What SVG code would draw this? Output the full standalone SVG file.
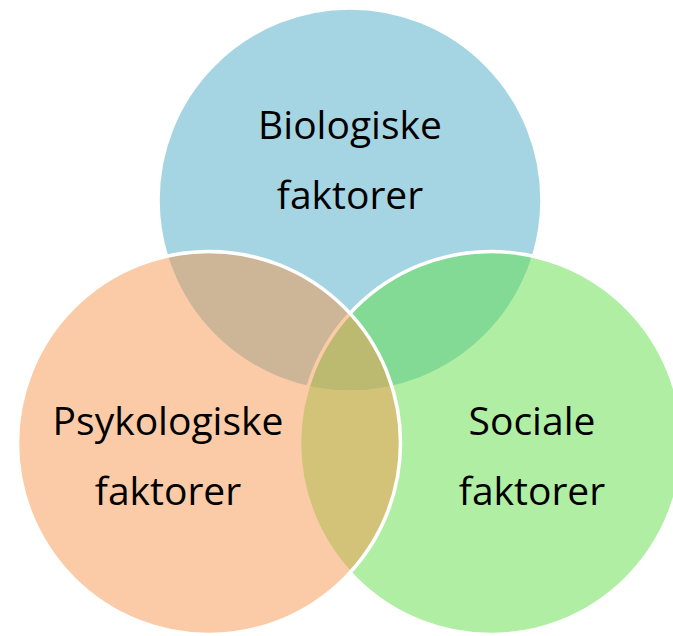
<svg xmlns="http://www.w3.org/2000/svg" width="673" height="636" viewBox="0 0 673 636">
  <style>
    .c { fill-opacity: 0.5; stroke: #FFFFFF; stroke-width: 3.5; }
    .t { font-family: "Open Sans", "Noto Sans", "Liberation Sans", sans-serif; font-size: 39px; fill: #000000; text-anchor: middle; }
  </style>
  <rect x="0" y="0" width="673" height="636" fill="#FFFFFF"/>
  <g id="biologiske">
    <circle class="c" cx="350" cy="200" r="192" fill="#4BABC5"/>
    <text class="t" x="350" y="139">Biologiske</text>
    <text class="t" x="350" y="209">faktorer</text>
  </g>
  <g id="sociale">
    <circle class="c" cx="491" cy="443" r="191.5" fill="#61DF47"/>
    <text class="t" x="532" y="435">Sociale</text>
    <text class="t" x="532" y="505">faktorer</text>
  </g>
  <g id="psykologiske">
    <circle class="c" cx="209" cy="443" r="191.5" fill="#F5974D"/>
    <text class="t" x="168" y="435">Psykologiske</text>
    <text class="t" x="168" y="505">faktorer</text>
  </g>
</svg>
